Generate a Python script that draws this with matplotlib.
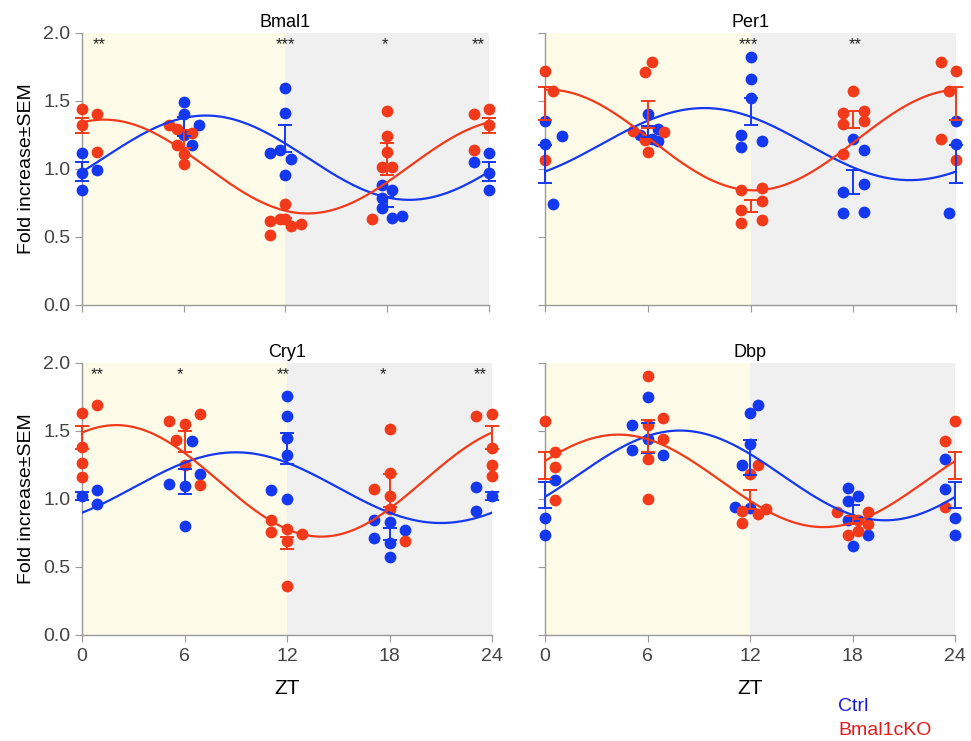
import numpy as np
import matplotlib
matplotlib.use("Agg")
from matplotlib import pyplot as plt

plt.rcParams['font.family'] = ['Liberation Sans', 'DejaVu Sans']

BLUE = '#1438f0'
RED = '#f23a1a'

zt = [0, 6, 12, 18, 24]

# ---- individual points (time incl. jitter, value) ----
bmal1_ctrl_t = [0, 0, 0, 0.9, 6, 6, 6, 6.9, 6.47, 12, 12, 11.1, 11.65, 12.3, 12,
                17.7, 18.3, 17.7, 17.7, 18.3, 18.9, 24, 24, 24, 23.1]
bmal1_ctrl_y = [1.115, 0.97, 0.84, 0.99, 1.49, 1.40, 1.245, 1.32, 1.17, 1.59, 1.41, 1.115, 1.14, 1.07, 0.95,
                0.88, 0.84, 0.78, 0.71, 0.64, 0.65, 1.115, 0.97, 0.84, 1.05]
bmal1_ko_t = [0, 0, 0.9, 0.9, 5.1, 5.6, 6.5, 5.6, 6, 6, 12, 11.1, 11.65, 12, 12.3, 12.9, 11.1,
              18, 18, 18, 17.7, 18.3, 17.1, 23.1, 24, 24, 23.1]
bmal1_ko_y = [1.44, 1.32, 1.40, 1.12, 1.32, 1.29, 1.26, 1.17, 1.11, 1.03, 0.74, 0.615, 0.63, 0.63, 0.58, 0.59, 0.515,
              1.42, 1.24, 1.12, 1.01, 1.01, 0.63, 1.40, 1.44, 1.32, 1.14]

per1_ctrl_t = [0, 0.97, 0, 0.49, 6, 5.55, 6.58, 6.23, 6.58, 12, 12, 12, 11.42, 11.42, 12.65,
               18, 18.64, 18.64, 17.41, 17.41, 18.64, 24, 24, 23.6]
per1_ctrl_y = [1.35, 1.24, 1.18, 0.74, 1.40, 1.25, 1.29, 1.22, 1.205, 1.82, 1.66, 1.52, 1.25, 1.16, 1.205,
               1.22, 1.14, 0.89, 0.83, 0.67, 0.68, 1.35, 1.18, 0.67]
per1_ko_t = [0, 0.49, 0, 5.84, 6.23, 5.16, 6.97, 5.84, 6.03, 11.42, 12.65, 12.65, 11.42, 11.42, 12.65,
             18, 17.41, 18.64, 17.41, 18.64, 17.41, 23.15, 24, 23.6, 23.15, 24]
per1_ko_y = [1.72, 1.57, 1.06, 1.71, 1.785, 1.28, 1.27, 1.21, 1.12, 0.84, 0.86, 0.76, 0.695, 0.60, 0.62,
             1.57, 1.41, 1.42, 1.33, 1.35, 1.11, 1.785, 1.72, 1.57, 1.22, 1.06]

cry1_ctrl_t = [0, 0.9, 0.9, 6.44, 6.89, 5.07, 6, 6, 12, 12, 12, 12, 11.06, 12,
               17.07, 18, 18.9, 17.07, 18, 18, 23.08, 24, 23.08]
cry1_ctrl_y = [1.02, 1.06, 0.96, 1.42, 1.18, 1.105, 1.09, 0.80, 1.755, 1.61, 1.445, 1.32, 1.06, 1.0,
               0.84, 0.83, 0.77, 0.71, 0.67, 0.57, 1.085, 1.02, 0.905]
cry1_ko_t = [0, 0.9, 0, 0, 0, 5.07, 6, 6.89, 5.52, 6, 6.89, 11.06, 11.06, 12, 12, 12.9, 12,
             18, 18, 18, 17.07, 18, 18.9, 23.08, 24, 24, 24, 24]
cry1_ko_y = [1.63, 1.69, 1.38, 1.26, 1.16, 1.57, 1.55, 1.62, 1.43, 1.25, 1.10, 0.84, 0.755, 0.775, 0.69, 0.74, 0.36,
             1.51, 1.19, 1.02, 1.07, 0.92, 0.69, 1.605, 1.625, 1.375, 1.25, 1.165]

dbp_ctrl_t = [0.59, 0, 0, 6, 5.11, 6, 5.11, 6.93, 12, 12.49, 12, 11.55, 11.12, 12,
              17.76, 18.34, 17.76, 17.76, 18.93, 18.05, 23.41, 23.41, 24, 24]
dbp_ctrl_y = [1.14, 0.86, 0.73, 1.75, 1.54, 1.44, 1.36, 1.32, 1.63, 1.69, 1.40, 1.245, 0.94, 0.93,
              1.08, 1.02, 0.98, 0.84, 0.73, 0.65, 1.29, 1.07, 0.86, 0.73]
dbp_ko_t = [0, 0.59, 0.59, 0.59, 6, 6.93, 6, 6.93, 6, 6, 12.49, 12, 11.55, 12.49, 12.94, 11.55,
            17.11, 18.93, 18.34, 18.93, 17.76, 18.34, 24, 23.41, 23.41]
dbp_ko_y = [1.57, 1.34, 1.23, 0.99, 1.90, 1.59, 1.54, 1.44, 1.29, 0.995, 1.245, 1.18, 0.905, 0.89, 0.92, 0.82,
            0.90, 0.90, 0.84, 0.81, 0.73, 0.76, 1.57, 1.42, 0.94]

# ---- group means and SEM at ZT 0/6/12/18/24 ----
bmal1_ctrl_mean = [0.98, 1.31, 1.22, 0.755, 0.98]
bmal1_ctrl_sem = [0.07, 0.07, 0.10, 0.035, 0.07]
bmal1_ko_mean = [1.32, 1.22, 0.62, 1.07, 1.32]
bmal1_ko_sem = [0.055, 0.065, 0.02, 0.12, 0.055]

per1_ctrl_mean = [1.035, 1.27, 1.42, 0.90, 1.035]
per1_ctrl_sem = [0.14, 0.04, 0.10, 0.09, 0.14]
per1_ko_mean = [1.48, 1.40, 0.726, 1.36, 1.48]
per1_ko_sem = [0.12, 0.10, 0.043, 0.06, 0.12]

cry1_ctrl_mean = [1.02, 1.125, 1.37, 0.737, 1.02]
cry1_ctrl_sem = [0.03, 0.095, 0.115, 0.043, 0.03]
cry1_ko_mean = [1.45, 1.42, 0.675, 1.06, 1.45]
cry1_ko_sem = [0.085, 0.08, 0.043, 0.12, 0.085]

dbp_ctrl_mean = [1.025, 1.446, 1.30, 0.895, 1.025]
dbp_ctrl_sem = [0.098, 0.11, 0.13, 0.06, 0.098]
dbp_ko_mean = [1.245, 1.46, 0.99, 0.84, 1.245]
dbp_ko_sem = [0.10, 0.12, 0.07, 0.03, 0.10]

# ---- cosinor fits: mesor, amplitude, acrophase (h) ----
fit_ctrl = {'Bmal1': (1.08, 0.31, 7.3), 'Per1': (1.18, 0.265, 9.3),
            'Cry1': (1.08, 0.26, 9.0), 'Dbp': (1.17, 0.33, 7.9)}
fit_ko = {'Bmal1': (1.015, 0.345, 1.3), 'Per1': (1.21, 0.37, 0.2),
          'Cry1': (1.13, 0.41, 2.0), 'Dbp': (1.13, 0.34, 4.3)}

# ---- significance stars ----
stars = {'Bmal1': ([1.0, 12, 17.85, 23.4], ['**', '***', '*', '**']),
         'Per1': ([11.9, 18.1], ['***', '**']),
         'Cry1': ([0.9, 5.75, 11.8, 17.6, 23.3], ['**', '*', '**', '*', '**']),
         'Dbp': ([], [])}

genes = ['Bmal1', 'Per1', 'Cry1', 'Dbp']
pts = {'Bmal1': (bmal1_ctrl_t, bmal1_ctrl_y, bmal1_ko_t, bmal1_ko_y),
       'Per1': (per1_ctrl_t, per1_ctrl_y, per1_ko_t, per1_ko_y),
       'Cry1': (cry1_ctrl_t, cry1_ctrl_y, cry1_ko_t, cry1_ko_y),
       'Dbp': (dbp_ctrl_t, dbp_ctrl_y, dbp_ko_t, dbp_ko_y)}
bars = {'Bmal1': (bmal1_ctrl_mean, bmal1_ctrl_sem, bmal1_ko_mean, bmal1_ko_sem),
        'Per1': (per1_ctrl_mean, per1_ctrl_sem, per1_ko_mean, per1_ko_sem),
        'Cry1': (cry1_ctrl_mean, cry1_ctrl_sem, cry1_ko_mean, cry1_ko_sem),
        'Dbp': (dbp_ctrl_mean, dbp_ctrl_sem, dbp_ko_mean, dbp_ko_sem)}

fig = plt.figure(figsize=(9.71, 7.41), dpi=100)
boxes = [[0.0845, 0.589, 0.419, 0.367], [0.5613, 0.589, 0.4233, 0.367],
         [0.0845, 0.1437, 0.4222, 0.367], [0.5613, 0.1437, 0.4223, 0.367]]

tt = np.linspace(0, 24, 300)
for i, g in enumerate(genes):
    ax = fig.add_axes(boxes[i])
    ax.axvspan(0, 12, color='#fefce9', zorder=0, lw=0)
    ax.axvspan(12, 24, color='#f0f0f0', zorder=0, lw=0)

    ct, cy, kt, ky = pts[g]
    ax.scatter(ct, cy, s=72, color=BLUE, zorder=3, clip_on=False, lw=0)
    ax.scatter(kt, ky, s=72, color=RED, zorder=3, clip_on=False, lw=0)

    for fit, col in ((fit_ctrl[g], BLUE), (fit_ko[g], RED)):
        m, a, p = fit
        ax.plot(tt, m + a * np.cos(2 * np.pi * (tt - p) / 24), color=col, lw=1.6, zorder=4)

    cm, cs, km, ks = bars[g]
    ax.errorbar(zt, cm, yerr=cs, fmt='none', ecolor=BLUE, elinewidth=1.4, capsize=5,
                capthick=1.4, zorder=5, clip_on=False)
    ax.errorbar(zt, km, yerr=ks, fmt='none', ecolor=RED, elinewidth=1.4, capsize=5,
                capthick=1.4, zorder=5, clip_on=False)

    sx, sl = stars[g]
    for x, s in zip(sx, sl):
        ax.text(x, 1.91, s, ha='center', va='center', fontsize=12, color='#222222')

    ax.set_xlim(0, 24)
    ax.set_ylim(0, 2.0)
    ax.set_xticks(zt)
    ax.set_yticks([0, 0.5, 1.0, 1.5, 2.0])
    ax.set_title(g, fontsize=13, pad=4)
    for sp in ['top', 'right']:
        ax.spines[sp].set_visible(False)
    for sp in ['left', 'bottom']:
        ax.spines[sp].set_color('#999999')
        ax.spines[sp].set_linewidth(1.0)
    ax.tick_params(colors='#999999', labelcolor='#444444', labelsize=14, length=5)
    ax.tick_params(axis='x', pad=5)
    if i % 2 == 0:
        ax.set_yticklabels(['0.0', '0.5', '1.0', '1.5', '2.0'])
        ax.set_ylabel('Fold increase±SEM', fontsize=14, labelpad=6)
    else:
        ax.set_yticklabels([])
    if i < 2:
        ax.set_xticklabels([])
    else:
        ax.set_xlabel('ZT', fontsize=15, labelpad=10)

fig.text(0.863, 0.047, 'Ctrl', color='#1a1ae6', fontsize=14, ha='left', va='center')
fig.text(0.863, 0.014, 'Bmal1cKO', color='#e61a1a', fontsize=14, ha='left', va='center')

fig.savefig('out.png', dpi=100)
